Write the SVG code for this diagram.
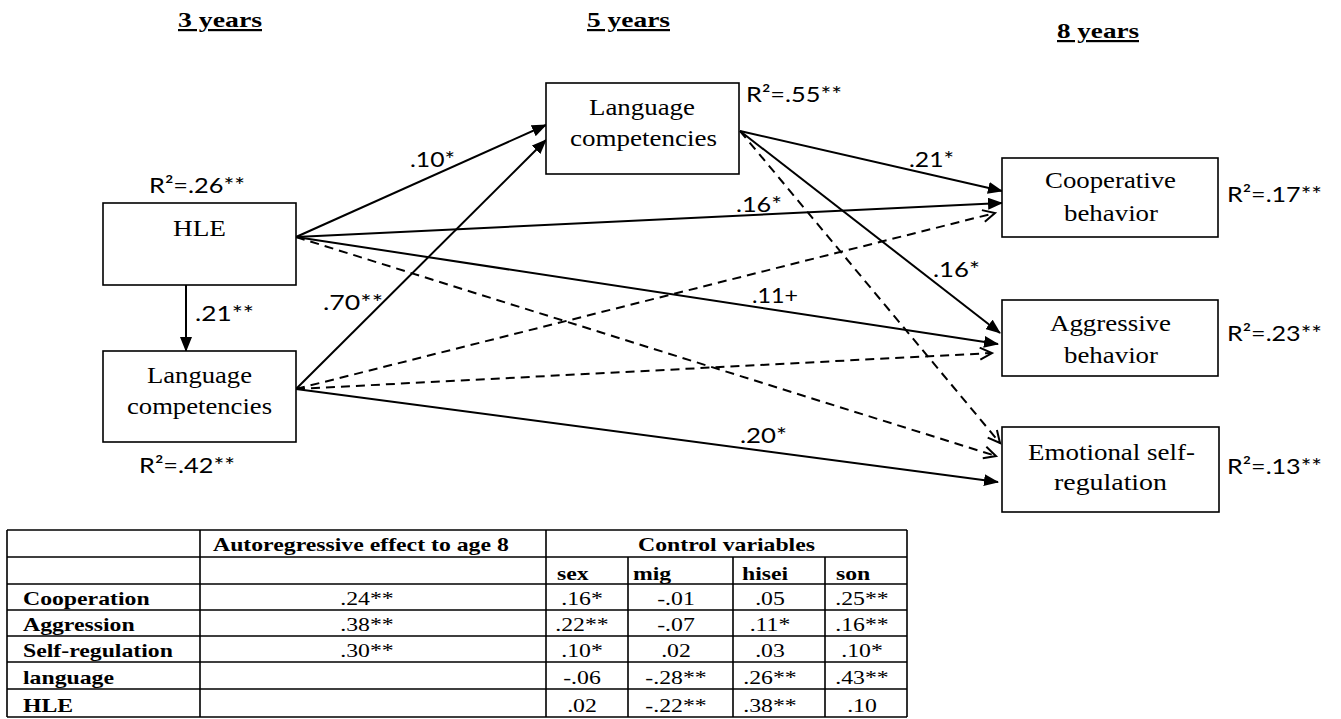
<svg xmlns="http://www.w3.org/2000/svg" width="1341" height="719" viewBox="0 0 1341 719">
<style>
.hdr{font-family:"Liberation Serif","Times New Roman",serif;font-weight:bold;font-size:22px;fill:#000;text-decoration:underline}
.lbl{font-family:"Liberation Serif","Times New Roman",serif;font-size:24px;fill:#000}
.r2{font-family:Lato,"Liberation Sans",Arial,sans-serif;font-size:22px;fill:#000}
.coef{font-family:Lato,"Liberation Sans",Arial,sans-serif;font-size:22px;fill:#000}
.box{fill:#fff;stroke:#000;stroke-width:1.6}
.edge{fill:none;stroke:#000;stroke-width:2}
.dash{fill:none;stroke:#000;stroke-width:2;stroke-dasharray:9 6}
.tb{font-family:"Liberation Serif","Times New Roman",serif;font-weight:bold;font-size:19px;fill:#000}
.tv{font-family:"Liberation Serif","Times New Roman",serif;font-size:19px;fill:#000}
.grid{fill:none;stroke:#000;stroke-width:1.6}
</style>
<defs>
<marker id="filled" markerUnits="userSpaceOnUse" markerWidth="15" markerHeight="12" refX="14" refY="6" orient="auto">
<path d="M0,0 L15,6 L0,12 z" fill="#000" stroke="none"/>
</marker>
<marker id="open" markerUnits="userSpaceOnUse" markerWidth="16" markerHeight="16" refX="13" refY="7" orient="auto">
<path d="M1,1 L13,7 L1,13" fill="none" stroke="#000" stroke-width="2" stroke-dasharray="none"/>
</marker>
</defs>

<g id="headers">
<text class="hdr" x="178" y="27" textLength="84" lengthAdjust="spacingAndGlyphs">3 years</text>
<text class="hdr" x="587" y="27" textLength="83" lengthAdjust="spacingAndGlyphs">5 years</text>
<text class="hdr" x="1057" y="38" textLength="82" lengthAdjust="spacingAndGlyphs">8 years</text>
</g>

<g id="connectors">
<path class="edge" d="M296,237 L546,125" marker-end="url(#filled)"/>
<path class="edge" d="M296,389 L546,140" marker-end="url(#filled)"/>
<path class="edge" d="M740,131 L1002,191" marker-end="url(#filled)"/>
<path class="edge" d="M296,237 L1002,203" marker-end="url(#filled)"/>
<path class="edge" d="M740,131 L1000,333" marker-end="url(#filled)"/>
<path class="edge" d="M296,237 L998,344" marker-end="url(#filled)"/>
<path class="edge" d="M296,389 L998,482" marker-end="url(#filled)"/>
<path class="edge" d="M186,285 L186,351" marker-end="url(#filled)"/>
<path class="dash" d="M296,389 L995,213" marker-end="url(#open)"/>
<path class="dash" d="M296,389 L992,353" marker-end="url(#open)"/>
<path class="dash" d="M296,237 L996,456" marker-end="url(#open)"/>
<path class="dash" d="M740,131 L1000,443" marker-end="url(#open)"/>
</g>

<g id="edge-labels">
<text class="coef" x="410" y="167" textLength="45" lengthAdjust="spacingAndGlyphs">.10*</text>
<text class="coef" x="195" y="321" textLength="59" lengthAdjust="spacingAndGlyphs">.21**</text>
<text class="coef" x="323" y="310" textLength="60" lengthAdjust="spacingAndGlyphs">.70**</text>
<text class="coef" x="736" y="212" textLength="46" lengthAdjust="spacingAndGlyphs">.16*</text>
<text class="coef" x="909" y="167" textLength="45" lengthAdjust="spacingAndGlyphs">.21*</text>
<text class="coef" x="933" y="277" textLength="47" lengthAdjust="spacingAndGlyphs">.16*</text>
<text class="coef" x="752" y="303" textLength="46" lengthAdjust="spacingAndGlyphs">.11+</text>
<text class="coef" x="740" y="443" textLength="47" lengthAdjust="spacingAndGlyphs">.20*</text>
</g>

<g id="node-hle">
<rect class="box" x="103" y="203" width="193" height="82"/>
<text class="lbl" x="173" y="236" textLength="53" lengthAdjust="spacingAndGlyphs">HLE</text>
<text class="r2" x="149" y="193" textLength="96" lengthAdjust="spacingAndGlyphs">R²=.26**</text>
</g>

<g id="node-lang3">
<rect class="box" x="103" y="351" width="193" height="91"/>
<text class="lbl" x="147" y="383" textLength="105" lengthAdjust="spacingAndGlyphs">Language</text>
<text class="lbl" x="127" y="414" textLength="145" lengthAdjust="spacingAndGlyphs">competencies</text>
<text class="r2" x="139" y="473" textLength="96" lengthAdjust="spacingAndGlyphs">R²=.42**</text>
</g>

<g id="node-lang5">
<rect class="box" x="546" y="83" width="193" height="91"/>
<text class="lbl" x="589" y="115" textLength="106" lengthAdjust="spacingAndGlyphs">Language</text>
<text class="lbl" x="570" y="146" textLength="147" lengthAdjust="spacingAndGlyphs">competencies</text>
<text class="r2" x="746" y="102" textLength="96" lengthAdjust="spacingAndGlyphs">R²=.55**</text>
</g>

<g id="node-coop">
<rect class="box" x="1002" y="158" width="216" height="79"/>
<text class="lbl" x="1045" y="188" textLength="131" lengthAdjust="spacingAndGlyphs">Cooperative</text>
<text class="lbl" x="1064" y="221" textLength="94" lengthAdjust="spacingAndGlyphs">behavior</text>
<text class="r2" x="1227" y="202" textLength="95" lengthAdjust="spacingAndGlyphs">R²=.17**</text>
</g>

<g id="node-aggr">
<rect class="box" x="1002" y="300" width="216" height="76"/>
<text class="lbl" x="1050" y="331" textLength="121" lengthAdjust="spacingAndGlyphs">Aggressive</text>
<text class="lbl" x="1064" y="363" textLength="94" lengthAdjust="spacingAndGlyphs">behavior</text>
<text class="r2" x="1227" y="341" textLength="95" lengthAdjust="spacingAndGlyphs">R²=.23**</text>
</g>

<g id="node-emot">
<rect class="box" x="1002" y="427" width="217" height="85"/>
<text class="lbl" x="1028" y="460" textLength="167" lengthAdjust="spacingAndGlyphs">Emotional self-</text>
<text class="lbl" x="1054" y="490" textLength="113" lengthAdjust="spacingAndGlyphs">regulation</text>
<text class="r2" x="1227" y="474" textLength="95" lengthAdjust="spacingAndGlyphs">R²=.13**</text>
</g>

<g id="table">
<path class="grid" d="M7,530 H907 M7,557 H907 M7,584 H907 M7,610 H907 M7,636 H907 M7,662 H907 M7,689 H907 M7,717 H907 M7,530 V717 M907,530 V717 M200,530 V717 M546,530 V717 M628,557 V717 M733,557 V717 M825,557 V717"/>
<g transform="scale(1.25 1)">
<text class="tb" x="170.4" y="551">Autoregressive effect to age 8</text>
<text class="tb" x="581.2" y="551" text-anchor="middle">Control variables</text>
<text class="tb" x="445.6" y="580">sex</text>
<text class="tb" x="506.4" y="580">mig</text>
<text class="tb" x="593.6" y="580">hisei</text>
<text class="tb" x="668.8" y="580">son</text>
<text class="tb" x="18.4" y="605">Cooperation</text>
<text class="tb" x="18.4" y="631">Aggression</text>
<text class="tb" x="18.4" y="657">Self-regulation</text>
<text class="tb" x="18.4" y="684">language</text>
<text class="tb" x="18.4" y="712">HLE</text>
<g text-anchor="middle">
<text class="tv" x="293.6" y="605">.24**</text>
<text class="tv" x="293.6" y="631">.38**</text>
<text class="tv" x="293.6" y="657">.30**</text>
<text class="tv" x="465.6" y="605">.16*</text>
<text class="tv" x="540.8" y="605">-.01</text>
<text class="tv" x="616" y="605">.05</text>
<text class="tv" x="689.6" y="605">.25**</text>
<text class="tv" x="465.6" y="631">.22**</text>
<text class="tv" x="540.8" y="631">-.07</text>
<text class="tv" x="616" y="631">.11*</text>
<text class="tv" x="689.6" y="631">.16**</text>
<text class="tv" x="465.6" y="657">.10*</text>
<text class="tv" x="540.8" y="657">.02</text>
<text class="tv" x="616" y="657">.03</text>
<text class="tv" x="689.6" y="657">.10*</text>
<text class="tv" x="465.6" y="684">-.06</text>
<text class="tv" x="540.8" y="684">-.28**</text>
<text class="tv" x="616" y="684">.26**</text>
<text class="tv" x="689.6" y="684">.43**</text>
<text class="tv" x="465.6" y="712">.02</text>
<text class="tv" x="540.8" y="712">-.22**</text>
<text class="tv" x="616" y="712">.38**</text>
<text class="tv" x="689.6" y="712">.10</text>
</g>
</g>
</g>
</svg>
